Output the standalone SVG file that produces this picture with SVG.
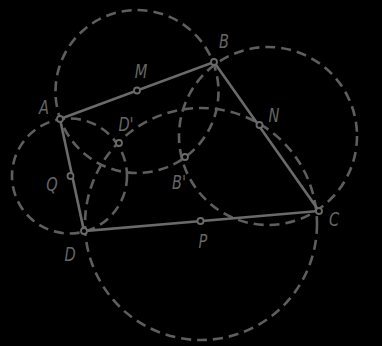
<svg xmlns="http://www.w3.org/2000/svg" width="382" height="346" viewBox="0 0 382 346">
<style>
.bg{fill:#000}
.dash{fill:none;stroke:#5e5e5e;stroke-width:2.6;stroke-dasharray:10 6}
.line{fill:none;stroke:#6a6a6a;stroke-width:2.6;stroke-linecap:round}
.pt{fill:#000;stroke:#6a6a6a;stroke-width:1.8}
.lbl{font-family:"DejaVu Sans","Liberation Sans",sans-serif;font-stretch:condensed;font-style:italic;font-size:19px;fill:#666;text-anchor:middle}
</style>
<rect class="bg" x="0" y="0" width="382" height="346"/>
<g id="circles">
<circle class="dash" cx="137" cy="91.5" r="81.5"/>
<circle class="dash" cx="268" cy="136" r="89"/>
<circle class="dash" cx="201" cy="224" r="116"/>
<circle class="dash" cx="69.5" cy="176" r="57.5"/>
</g>
<g id="connectors">
<polyline class="line" points="60,119 214,62 319,211 84,231 60,119"/>
</g>
<g id="node-A"><circle class="pt" cx="60" cy="119" r="3"/><text class="lbl" transform="translate(44 114) scale(0.85 1)">A</text></g>
<g id="node-B"><circle class="pt" cx="214" cy="62" r="3"/><text class="lbl" transform="translate(224 48) scale(0.85 1)">B</text></g>
<g id="node-C"><circle class="pt" cx="319" cy="211" r="3"/><text class="lbl" transform="translate(334 226) scale(0.85 1)">C</text></g>
<g id="node-D"><circle class="pt" cx="84" cy="231" r="3"/><text class="lbl" transform="translate(70 261) scale(0.85 1)">D</text></g>
<g id="node-M"><circle class="pt" cx="137" cy="90.5" r="3"/><text class="lbl" transform="translate(141 78) scale(0.85 1)">M</text></g>
<g id="node-N"><circle class="pt" cx="259.5" cy="125" r="3"/><text class="lbl" transform="translate(274 122) scale(0.85 1)">N</text></g>
<g id="node-P"><circle class="pt" cx="200.5" cy="221" r="3"/><text class="lbl" transform="translate(203 248) scale(0.85 1)">P</text></g>
<g id="node-Q"><circle class="pt" cx="70.5" cy="176" r="3"/><text class="lbl" transform="translate(52 191) scale(0.85 1)">Q</text></g>
<g id="node-Bp"><circle class="pt" cx="185" cy="157" r="3"/><text class="lbl" transform="translate(179 189) scale(0.85 1)">B'</text></g>
<g id="node-Dp"><circle class="pt" cx="119" cy="143" r="3"/><text class="lbl" transform="translate(126 131) scale(0.85 1)">D'</text></g>
</svg>
